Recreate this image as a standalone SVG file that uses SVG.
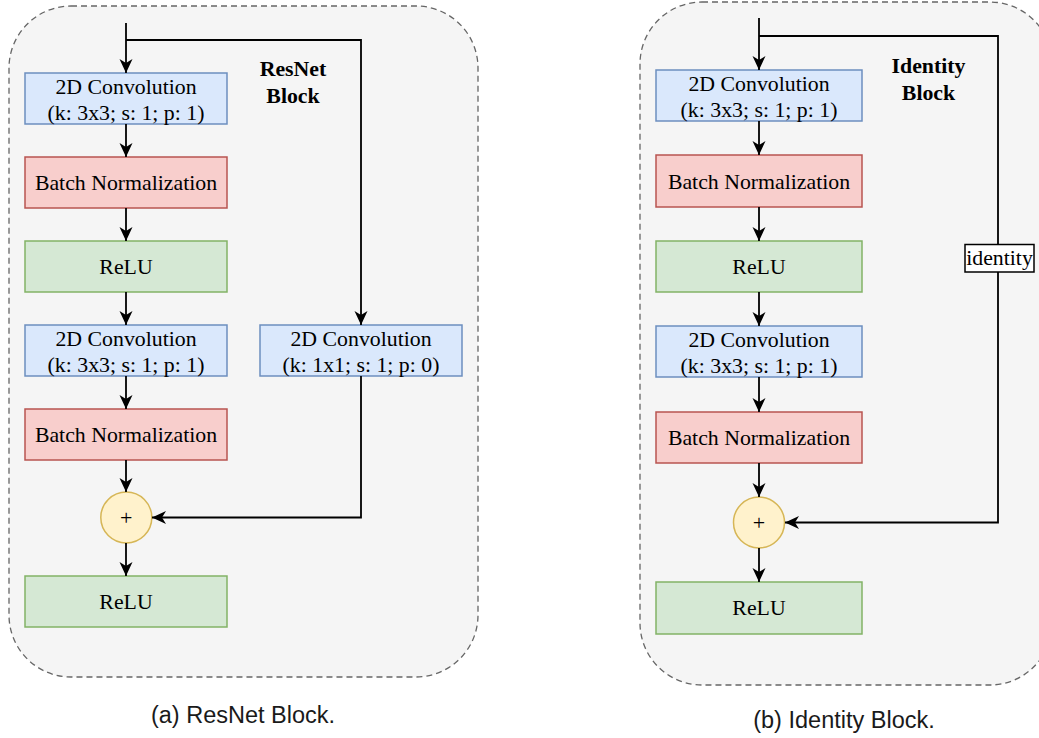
<svg xmlns="http://www.w3.org/2000/svg" width="1039" height="738" viewBox="0 0 1039 738">
  <style>
    .panel { fill: #f5f5f5; stroke: #666666; stroke-width: 1.3; stroke-dasharray: 6 4; }
    .conv { fill: #dae8fc; stroke: #6c8ebf; stroke-width: 1.5; }
    .bn { fill: #f8cecc; stroke: #b85450; stroke-width: 1.5; }
    .relu { fill: #d5e8d4; stroke: #82b366; stroke-width: 1.5; }
    .add { fill: #fff2cc; stroke: #d6b656; stroke-width: 1.5; }
    .lbl { font-family: "Liberation Serif", "Times New Roman", serif; font-size: 21.8px; fill: #000; text-anchor: middle; }
    .title { font-family: "Liberation Serif", "Times New Roman", serif; font-size: 21.8px; font-weight: bold; fill: #000; text-anchor: middle; }
    .plus { font-family: "Liberation Serif", "Times New Roman", serif; font-size: 22px; fill: #000; text-anchor: middle; }
    .caption { font-family: "Liberation Sans", Arial, sans-serif; font-size: 23.5px; fill: #1a1a1a; text-anchor: middle; }
    .edge { fill: none; stroke: #000; stroke-width: 1.8; }
    .tag { fill: #ffffff; stroke: #000; stroke-width: 1.5; }
  </style>
  <defs>
    <marker id="arrow" markerUnits="userSpaceOnUse" markerWidth="18" markerHeight="16" refX="14" refY="6.5" orient="auto">
      <path d="M0,0 L14,6.5 L0,13 L4,6.5 z" fill="#000"/>
    </marker>
  </defs>

  <!-- (a) ResNet block -->
  <g id="resnet-panel">
    <rect class="panel" x="9" y="6" width="469" height="671" rx="62" ry="62"/>
    <text class="title" x="293" y="76">ResNet</text>
    <text class="title" x="293" y="103">Block</text>
  </g>
  <g id="r-conv1">
    <rect class="conv" x="25" y="73" width="202" height="51"/>
    <text class="lbl" x="126" y="93.5">2D Convolution</text>
    <text class="lbl" x="126" y="119.5">(k: 3x3; s: 1; p: 1)</text>
  </g>
  <g id="r-bn1">
    <rect class="bn" x="25" y="157" width="202" height="51"/>
    <text class="lbl" x="126" y="190">Batch Normalization</text>
  </g>
  <g id="r-relu1">
    <rect class="relu" x="25" y="241" width="202" height="51"/>
    <text class="lbl" x="126" y="274">ReLU</text>
  </g>
  <g id="r-conv2">
    <rect class="conv" x="25" y="325" width="202" height="51"/>
    <text class="lbl" x="126" y="345.5">2D Convolution</text>
    <text class="lbl" x="126" y="371.5">(k: 3x3; s: 1; p: 1)</text>
  </g>
  <g id="r-bn2">
    <rect class="bn" x="25" y="409" width="202" height="51"/>
    <text class="lbl" x="126" y="442">Batch Normalization</text>
  </g>
  <g id="r-add">
    <circle class="add" cx="126.3" cy="517.5" r="25.5"/>
    <text class="plus" x="126.3" y="524.5">+</text>
  </g>
  <g id="r-relu2">
    <rect class="relu" x="25" y="576" width="202" height="51"/>
    <text class="lbl" x="126" y="609">ReLU</text>
  </g>
  <g id="r-shortcut-conv">
    <rect class="conv" x="260" y="325" width="202" height="51"/>
    <text class="lbl" x="361" y="345.5">2D Convolution</text>
    <text class="lbl" x="361" y="371.5">(k: 1x1; s: 1; p: 0)</text>
  </g>

  <!-- (b) Identity block -->
  <g id="identity-panel">
    <rect class="panel" x="640" y="2" width="412" height="683" rx="62" ry="62"/>
    <text class="title" x="928.5" y="73">Identity</text>
    <text class="title" x="928.5" y="100">Block</text>
  </g>
  <g id="i-conv1">
    <rect class="conv" x="656" y="70" width="206" height="51"/>
    <text class="lbl" x="759" y="90.5">2D Convolution</text>
    <text class="lbl" x="759" y="116.5">(k: 3x3; s: 1; p: 1)</text>
  </g>
  <g id="i-bn1">
    <rect class="bn" x="656" y="155" width="206" height="52"/>
    <text class="lbl" x="759" y="189">Batch Normalization</text>
  </g>
  <g id="i-relu1">
    <rect class="relu" x="656" y="241" width="206" height="51"/>
    <text class="lbl" x="759" y="274">ReLU</text>
  </g>
  <g id="i-conv2">
    <rect class="conv" x="656" y="326" width="206" height="51"/>
    <text class="lbl" x="759" y="346.5">2D Convolution</text>
    <text class="lbl" x="759" y="372.5">(k: 3x3; s: 1; p: 1)</text>
  </g>
  <g id="i-bn2">
    <rect class="bn" x="656" y="412" width="206" height="51"/>
    <text class="lbl" x="759" y="445">Batch Normalization</text>
  </g>
  <g id="i-add">
    <circle class="add" cx="759" cy="522.5" r="25.5"/>
    <text class="plus" x="759" y="529.5">+</text>
  </g>
  <g id="i-relu2">
    <rect class="relu" x="656" y="582" width="206" height="52"/>
    <text class="lbl" x="759" y="615">ReLU</text>
  </g>

  <!-- connectors -->
  <g id="connectors">
    <path class="edge" d="M126,23 V73" marker-end="url(#arrow)"/>
    <path class="edge" d="M126,40 H361 V325" marker-end="url(#arrow)"/>
    <path class="edge" d="M126,124 V157" marker-end="url(#arrow)"/>
    <path class="edge" d="M126,208 V241" marker-end="url(#arrow)"/>
    <path class="edge" d="M126,292 V325" marker-end="url(#arrow)"/>
    <path class="edge" d="M126,376 V409" marker-end="url(#arrow)"/>
    <path class="edge" d="M126,460 V492" marker-end="url(#arrow)"/>
    <path class="edge" d="M126,543 V576" marker-end="url(#arrow)"/>
    <path class="edge" d="M361,376 V517.5 H152" marker-end="url(#arrow)"/>

    <path class="edge" d="M759,18 V70" marker-end="url(#arrow)"/>
    <path class="edge" d="M759,36 H998 V522.5 H785" marker-end="url(#arrow)"/>
    <path class="edge" d="M759,121 V155" marker-end="url(#arrow)"/>
    <path class="edge" d="M759,207 V241" marker-end="url(#arrow)"/>
    <path class="edge" d="M759,292 V326" marker-end="url(#arrow)"/>
    <path class="edge" d="M759,377 V412" marker-end="url(#arrow)"/>
    <path class="edge" d="M759,463 V497" marker-end="url(#arrow)"/>
    <path class="edge" d="M759,548 V582" marker-end="url(#arrow)"/>
    <g id="identity-label">
      <rect class="tag" x="965" y="244.5" width="69" height="27.5"/>
      <text class="lbl" x="999.5" y="265">identity</text>
    </g>
  </g>

  <!-- sub-figure captions -->
  <text class="caption" x="243" y="723">(a) ResNet Block.</text>
  <text class="caption" x="844" y="728">(b) Identity Block.</text>
</svg>
